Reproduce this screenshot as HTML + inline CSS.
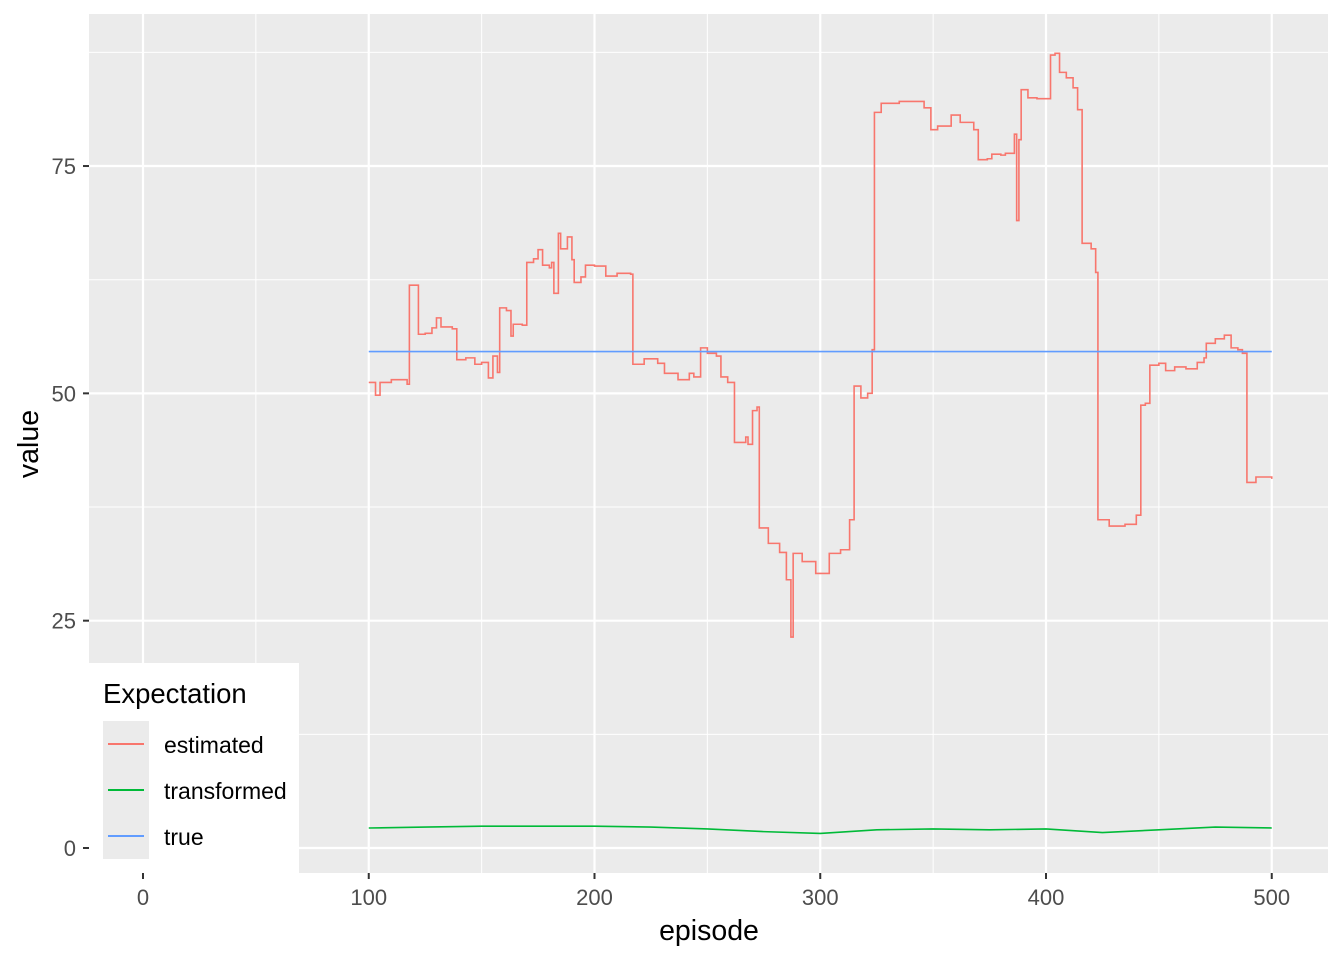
<!DOCTYPE html>
<html><head><meta charset="utf-8"><style>
body{margin:0;background:#fff;font-family:"Liberation Sans",sans-serif}
</style></head><body>
<svg id="chart" width="1344" height="960" xmlns="http://www.w3.org/2000/svg" font-family="Liberation Sans, sans-serif">
<rect x="89" y="14" width="1239" height="859" fill="#ebebeb"/>
<g id="grid"></g>
<g id="series"></g>
<g id="axes"></g>
<g>
<rect x="89" y="663" width="210" height="210" fill="#fff"/>
<text x="103" y="703" font-size="27.5" fill="#000">Expectation</text>
<rect x="103" y="721" width="46" height="46" fill="#ebebeb"/>
<line x1="108" x2="144" y1="744" y2="744" stroke="#f8766d" stroke-width="2"/>
<text x="164" y="753" font-size="23">estimated</text>
<rect x="103" y="767" width="46" height="46" fill="#ebebeb"/>
<line x1="108" x2="144" y1="790" y2="790" stroke="#00ba38" stroke-width="2"/>
<text x="164" y="799" font-size="23">transformed</text>
<rect x="103" y="813" width="46" height="46" fill="#ebebeb"/>
<line x1="108" x2="144" y1="836" y2="836" stroke="#619cff" stroke-width="2"/>
<text x="164" y="845" font-size="23">true</text>
</g>
<text x="709" y="940" font-size="28.5" text-anchor="middle">episode</text>
<text transform="translate(38,444) rotate(-90)" font-size="28.5" text-anchor="middle">value</text>
</svg>
<script>
const estX=[100,103,105,110,117,118,121,122,125,128,130,132,137,139,143,147,150,153,155,157,158,161,163,164,168,170,173,175,177,180,181,182,184,185,188,190,191,194,196,200,203,205,210,216,217,222,228,231,237,242,244,247,250,254,256,259,262,267,268,270,272,273,277,282,285,287,288,292,294,298,302,304,309,313,315,318,321,323,324,327,335,343,346,349,352,357,358,362,368,370,374,376,380,382,386,387,388,389,392,396,401,402,404,406,409,412,414,416,420,422,423,428,435,440,442,444,446,450,453,457,462,467,470,471,475,479,482,485,487,489,493,500];
const estY=[51.2,49.8,51.2,51.5,51.0,61.9,61.9,56.5,56.6,57.2,58.3,57.3,57.1,53.7,53.9,53.2,53.4,51.7,54.1,52.3,59.4,59.1,56.3,57.6,57.5,64.4,64.8,65.8,64.1,63.8,64.4,61.0,67.6,65.9,67.2,64.7,62.2,62.8,64.1,64.0,64.0,62.9,63.2,63.1,53.2,53.8,53.3,52.2,51.5,52.2,51.8,55.0,54.4,54.1,51.8,51.2,44.6,45.2,44.4,48.1,48.5,35.2,33.5,32.5,29.5,23.2,32.4,31.5,31.5,30.2,30.2,32.4,32.8,36.1,50.8,49.5,50.0,54.8,80.9,81.9,82.1,82.1,81.4,79.0,79.4,79.4,80.6,79.8,79.0,75.7,75.8,76.3,76.2,76.4,78.5,69.0,77.9,83.4,82.5,82.4,82.4,87.2,87.4,85.3,84.7,83.6,81.2,66.5,65.9,63.3,36.1,35.4,35.6,36.6,48.7,48.9,53.1,53.3,52.5,52.9,52.7,53.4,53.9,55.5,56.0,56.4,55.0,54.8,54.4,40.2,40.8,40.6];
const trX=[100,125,150,175,200,225,250,275,300,325,350,375,400,425,450,475,500];
const trY=[2.2,2.3,2.4,2.4,2.4,2.3,2.1,1.8,1.6,2.0,2.1,2.0,2.1,1.7,2.0,2.3,2.2];
const trueX=[100,500];
const trueY=[54.6,54.6];
const xTicks=[0,100,200,300,400,500];
const xMinor=[50,150,250,350,450];
const yTicks=[0,25,50,75];
const yMinor=[12.5,37.5,62.5,87.5];
const NS="http://www.w3.org/2000/svg";
const sx=v=>143+v*2.2575;
const sy=v=>848-v*9.093;
function mk(tag,attrs,parent){const e=document.createElementNS(NS,tag);for(const k in attrs)e.setAttribute(k,attrs[k]);parent.appendChild(e);return e;}
const grid=document.getElementById('grid'),ser=document.getElementById('series'),ax=document.getElementById('axes');
xMinor.forEach(v=>{const l=mk('line',{x1:sx(v),x2:sx(v),y1:14,y2:873,stroke:'#fff','stroke-width':1},grid);

});
yMinor.forEach(v=>{const l=mk('line',{x1:89,x2:1328,y1:sy(v),y2:sy(v),stroke:'#fff','stroke-width':1},grid);

});
xTicks.forEach(v=>{const l=mk('line',{x1:sx(v),x2:sx(v),y1:14,y2:873,stroke:'#fff','stroke-width':2.2},grid);


const t=mk('line',{x1:sx(v),x2:sx(v),y1:873,y2:879,stroke:'#333','stroke-width':2},ax);


const tx=mk('text',{x:sx(v),y:905,'font-size':22,fill:'#4d4d4d','text-anchor':'middle'},ax);tx.textContent=v;

});
yTicks.forEach(v=>{const l=mk('line',{x1:89,x2:1328,y1:sy(v),y2:sy(v),stroke:'#fff','stroke-width':2.2},grid);


const t=mk('line',{x1:83,x2:89,y1:sy(v),y2:sy(v),stroke:'#333','stroke-width':2},ax);


const tx=mk('text',{x:76,y:sy(v)+8,'font-size':22,fill:'#4d4d4d','text-anchor':'end'},ax);tx.textContent=v;

});
function line(xs,ys,color,name,step){let pts=[];xs.forEach((x,i)=>{if(step&&i>0)pts.push(sx(x)+','+sy(ys[i-1]));pts.push(sx(x)+','+sy(ys[i]));});
const p=mk('polyline',{points:pts.join(' '),fill:'none',stroke:color,'stroke-width':1.6},ser);

}
line(estX,estY,'#f8766d','estimated-line',true);
line(trX,trY,'#00ba38','transformed-line',false);
line(trueX,trueY,'#619cff','true-line',false);
</script>
</body></html>
